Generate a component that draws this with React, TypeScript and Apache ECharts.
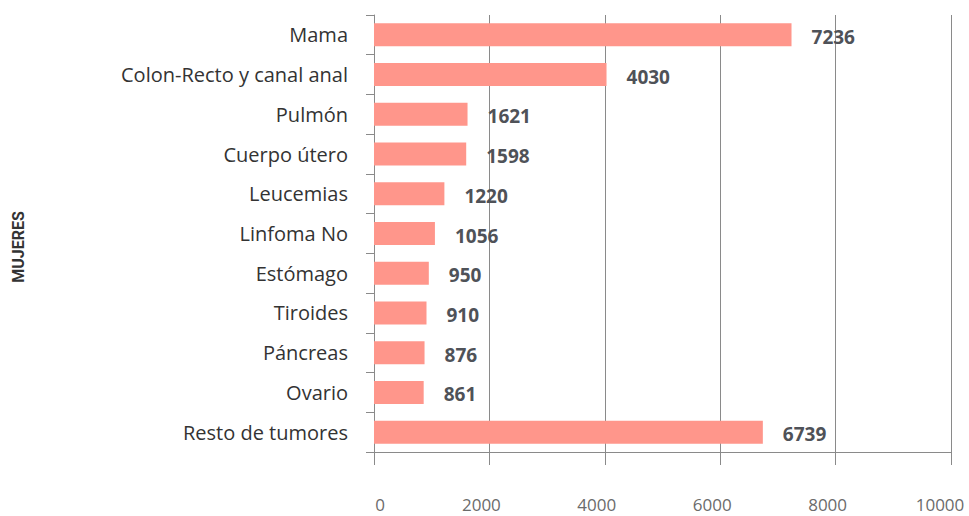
import React, { useEffect, useRef } from "react";
import * as echarts from "echarts";

const categories = [
  "Mama",
  "Colon-Recto y canal anal",
  "Pulmón",
  "Cuerpo útero",
  "Leucemias",
  "Linfoma No",
  "Estómago",
  "Tiroides",
  "Páncreas",
  "Ovario",
  "Resto de tumores",
];
const values = [7236, 4030, 1621, 1598, 1220, 1056, 950, 910, 876, 861, 6739];
const xTicks = { min: 0, max: 10000, interval: 2000 };
const axisTitle = "MUJERES";

export default function App() {
  const ref = useRef<HTMLDivElement>(null);
  useEffect(() => {
    if (!ref.current) return;
    const chart = echarts.init(ref.current, undefined, { renderer: "svg" });
    const tickFont = { fontSize: 17, color: "#6b6b6b", fontFamily: "Open Sans" };
    chart.setOption({
      animation: false,
      grid: {
        left: 374,
        right: 18,
        top: 15,
        bottom: 64,
        containLabel: false,
        outerBoundsMode: "none",
      },
      xAxis: {
        type: "value",
        min: xTicks.min,
        max: xTicks.max,
        interval: xTicks.interval,
        axisLine: { show: true, lineStyle: { color: "#8a8a8a", width: 1 } },
        axisTick: { show: true, length: 13, lineStyle: { color: "#8a8a8a" } },
        splitLine: { show: true, lineStyle: { color: "#8a8a8a", width: 1 } },
        axisLabel: {
          margin: 44,
          ...tickFont,
          formatter: (v: number) =>
            v === xTicks.min
              ? `{z|${v}}`
              : v === xTicks.max
              ? `{e|${v}}`
              : `{m|${v}}`,
          rich: {
            z: { ...tickFont, padding: [0, 0, 0, 12] },
            m: { ...tickFont, padding: [0, 16, 0, 0] },
            e: { ...tickFont, padding: [0, 22, 0, 0] },
          },
        },
      },
      yAxis: {
        type: "category",
        inverse: true,
        data: categories,
        axisLine: { show: true, lineStyle: { color: "#8a8a8a", width: 1 } },
        axisTick: { show: true, length: 8, lineStyle: { color: "#8a8a8a" } },
        axisLabel: {
          margin: 26,
          fontSize: 20,
          color: "#333333",
          fontFamily: "Open Sans",
          padding: [4, 0, 0, 0],
        },
      },
      graphic: [
        {
          type: "text",
          x: 18,
          y: 247,
          rotation: Math.PI / 2,
          style: {
            text: axisTitle,
            fontSize: 16,
            fontWeight: "bold",
            fill: "#333333",
            fontFamily: "Roboto, sans-serif",
            align: "center",
            verticalAlign: "middle",
          },
        },
      ],
      series: [
        {
          type: "bar",
          data: values,
          barWidth: 23,
          itemStyle: { color: "#ff968b" },
          label: {
            show: true,
            position: "right",
            distance: 20,
            offset: [0, 2],
            fontSize: 19,
            fontWeight: "bold",
            color: "#4f5258",
            fontFamily: "Open Sans",
          },
        },
      ],
    });
    return () => chart.dispose();
  }, []);
  return (
    <div
      ref={ref}
      style={{ position: "absolute", left: 0, top: 0, width: 969, height: 516 }}
    />
  );
}
